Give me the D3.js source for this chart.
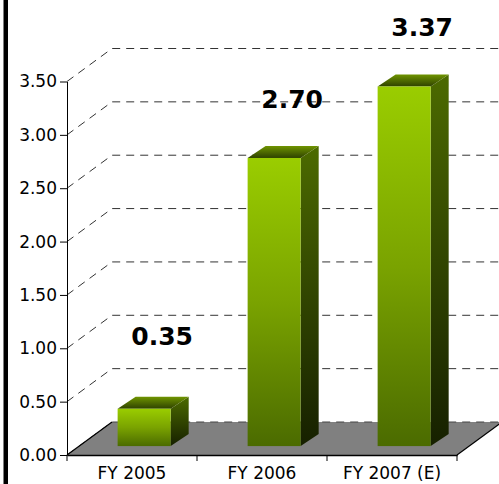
<!DOCTYPE html>
<html>
<head>
<meta charset="utf-8">
<script src="https://cdn.jsdelivr.net/npm/d3@7"></script>
<style>
  body { margin: 0; background: #fff; }
  svg { display: block; }
</style>
</head>
<body>
<div id="chart"></div>
<script>
const categories = ['FY 2005', 'FY 2006', 'FY 2007 (E)']
const values = [0.35, 2.70, 3.37]
const valueLabels = ['0.35', '2.70', '3.37']
const yTicks = [0, 0.5, 1, 1.5, 2, 2.5, 3, 3.5]

const W = 499, H = 484
const left = 67, right = 457, bottom = 455
const DX = 45, DY = -33          // floor / back wall depth
const zf = 0.27                  // where bars sit inside the floor
const bx = DX * zf, by = DY * zf
const BDX = 18, BDY = -12        // bar depth

const svg = d3.select('#chart').append('svg')
  .attr('width', W).attr('height', H)

const defs = svg.append('defs')
function grad(id, stops, x2, y2) {
  const g = defs.append('linearGradient').attr('id', id)
    .attr('x1', 0).attr('y1', 0).attr('x2', x2).attr('y2', y2)
  stops.forEach(s => g.append('stop').attr('offset', s[0]).attr('stop-color', s[1]))
}
grad('front', [[0, '#9acd00'], [0.5, '#7aa300'], [1, '#4b6b00']], 0, 1)
grad('side', [[0, '#4c6a00'], [1, '#162000']], 0, 1)
grad('top', [[0, '#6f9400'], [1, '#2f4200']], 0, 1)

const x = d3.scaleBand().domain(categories).range([left, right])
  .paddingInner(0.592).paddingOuter(0.296)
const y = d3.scaleLinear().domain([0, 3.5]).range([bottom, 81.5])

// left black border
svg.append('rect').attr('x', 3.5).attr('y', 0).attr('width', 4.5).attr('height', H).attr('fill', '#000')

// floor
svg.append('path')
  .attr('d', `M${left},${bottom}L${right},${bottom}L${right + DX},${bottom + DY}L${left + DX},${bottom + DY}Z`)
  .attr('fill', '#808080')

// back wall grid
const grid = svg.append('g')
yTicks.forEach(t => {
  grid.append('path')
    .attr('d', `M${left},${y(t)}L${left + DX},${y(t) + DY}L${W + 5},${y(t) + DY}`)
    .attr('fill', 'none')
    .attr('stroke', t === 0 ? '#444' : '#333')
    .attr('stroke-width', 1)
    .attr('stroke-dasharray', '8,6')
})
// solid floor edges
svg.append('line').attr('x1', left).attr('y1', bottom).attr('x2', left + DX).attr('y2', bottom + DY)
  .attr('stroke', '#000').attr('stroke-width', 1.2)
svg.append('line').attr('x1', right).attr('y1', bottom).attr('x2', right + DX).attr('y2', bottom + DY)
  .attr('stroke', '#000').attr('stroke-width', 1.2)

// bars
const bars = svg.append('g').selectAll('g').data(values).enter().append('g')
bars.each(function (v, i) {
  const g = d3.select(this)
  const x0 = x(categories[i]) + bx
  const x1 = x0 + x.bandwidth()
  const yb = y(0) + by
  const yt = y(v) + by
  g.append('path')
    .attr('d', `M${x1},${yb}L${x1 + BDX},${yb + BDY}L${x1 + BDX},${yt + BDY}L${x1},${yt}Z`)
    .attr('fill', 'url(#side)')
  g.append('path')
    .attr('d', `M${x0},${yt}L${x0 + BDX},${yt + BDY}L${x1 + BDX},${yt + BDY}L${x1},${yt}Z`)
    .attr('fill', 'url(#top)')
  g.append('rect')
    .attr('x', x0).attr('y', yt).attr('width', x.bandwidth()).attr('height', yb - yt)
    .attr('fill', 'url(#front)')
})

// value labels
svg.append('g').selectAll('text').data(values).enter().append('text')
  .attr('x', (v, i) => x(categories[i]) + bx + x.bandwidth() / 2 + BDX)
  .attr('y', v => y(Math.max(v, 0.48)) + by - 50)
  .attr('text-anchor', 'middle')
  .attr('font-family', 'DejaVu Sans, Verdana, sans-serif')
  .attr('font-weight', 'bold')
  .attr('font-size', 25)
  .attr('fill', '#000')
  .text((v, i) => valueLabels[i])

// y axis
const yAxis = svg.append('g')
  .attr('transform', `translate(${left},0)`)
  .call(d3.axisLeft(y).tickValues(yTicks).tickFormat(d3.format('.2f')).tickSize(7).tickPadding(3).tickSizeOuter(0))
yAxis.select('.domain').attr('stroke', '#000')
yAxis.selectAll('text').attr('font-family', 'DejaVu Sans, Verdana, sans-serif').attr('font-size', 17).attr('fill', '#000')

// x axis
const xOuter = d3.scaleBand().domain(categories).range([left, right])
const xAxis = svg.append('g')
  .attr('transform', `translate(0,${bottom})`)
  .call(d3.axisBottom(xOuter).tickSize(0).tickPadding(12))
xAxis.select('.domain').attr('stroke', '#000').attr('stroke-width', 1.5)
xAxis.selectAll('text').attr('font-family', 'DejaVu Sans, Verdana, sans-serif').attr('font-size', 17).attr('fill', '#000')
xAxis.selectAll('.sep').data(d3.range(categories.length + 1)).enter().append('line')
  .attr('x1', i => left + xOuter.step() * i).attr('x2', i => left + xOuter.step() * i)
  .attr('y1', 0).attr('y2', 6).attr('stroke', '#000')
</script>
</body>
</html>
